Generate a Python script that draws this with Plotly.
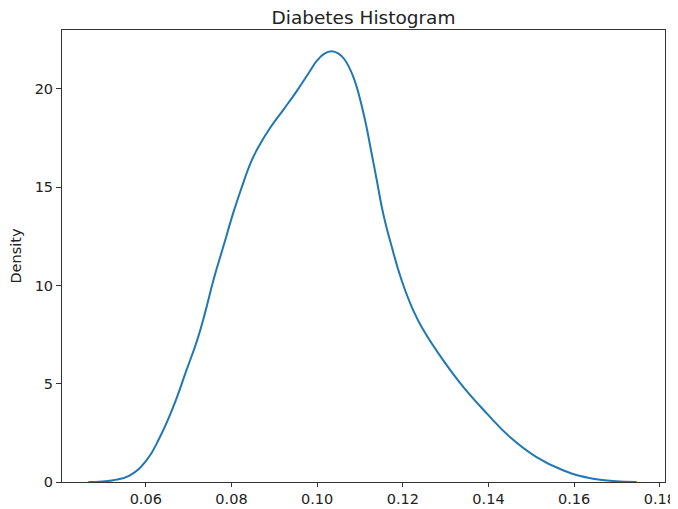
import plotly.graph_objects as go

# KDE curve points
x_vals = [0.0466, 0.0524, 0.0563, 0.0602, 0.0633, 0.0664, 0.0695, 0.0720, 0.0738, 0.0758,
          0.0781, 0.0804, 0.0822, 0.0847, 0.0867, 0.0890, 0.0921, 0.0952, 0.0983, 0.1000,
          0.1017, 0.1034, 0.1050, 0.1064, 0.1084, 0.1108, 0.1127, 0.1139, 0.1154, 0.1174,
          0.1197, 0.1224, 0.1248, 0.1294, 0.1341, 0.1396, 0.1450, 0.1512, 0.1574, 0.1644,
          0.1746]
density = [0.0, 0.09, 0.34, 1.11, 2.29, 3.82, 5.69, 7.22, 8.58, 10.28,
           11.98, 13.68, 14.87, 16.35, 17.2, 18.01, 18.94, 19.88, 20.9, 21.45,
           21.8, 21.92, 21.8, 21.5, 20.64, 18.78, 16.74, 15.38, 13.68, 11.98,
           10.28, 8.75, 7.73, 6.2, 4.84, 3.49, 2.29, 1.27, 0.60, 0.17,
           0.0]

x_ticks = [0.06, 0.08, 0.10, 0.12, 0.14, 0.16, 0.18]
y_ticks = [0, 5, 10, 15, 20]
title = "Diabetes Histogram"
y_label = "Density"

fig = go.Figure()
fig.add_trace(go.Scatter(x=x_vals, y=density, mode="lines",
                         line=dict(color="#1f77b4", width=2, shape="spline", smoothing=1.3),
                         showlegend=False, hoverinfo="skip"))

font = "DejaVu Sans"
tick_size = 14.5
# the page body has an 8px margin, so the figure is sized/offset to compensate
fig.update_layout(
    width=670, height=501,
    margin=dict(l=54, r=13, t=22, b=27, autoexpand=False),
    paper_bgcolor="white", plot_bgcolor="white",
    title=dict(text=title, x=0.5, xanchor="center", xref="paper",
               y=1 - 10 / 501, yanchor="middle", yref="container",
               font=dict(family=font, size=18.5, color="#222")),
    font=dict(family=font, size=tick_size, color="#222"),
)
fig.update_xaxes(range=[0.04044, 0.1812], tickvals=x_ticks, tickformat=".2f", automargin=False,
                 showgrid=False, zeroline=False, showline=True, linecolor="#333", linewidth=1,
                 mirror=True, ticks="outside", ticklen=4, tickcolor="#333",
                 tickfont=dict(family=font, size=tick_size, color="#222"))
fig.update_yaxes(range=[0, 23.0], tickvals=y_ticks, automargin=False,
                 title=dict(text=y_label, standoff=16,
                            font=dict(family=font, size=tick_size, color="#222")),
                 showgrid=False, zeroline=False, showline=True, linecolor="#333", linewidth=1,
                 mirror=True, ticks="outside", ticklen=5, tickcolor="#333",
                 tickfont=dict(family=font, size=tick_size, color="#222"))

fig.write_html("out.html")
